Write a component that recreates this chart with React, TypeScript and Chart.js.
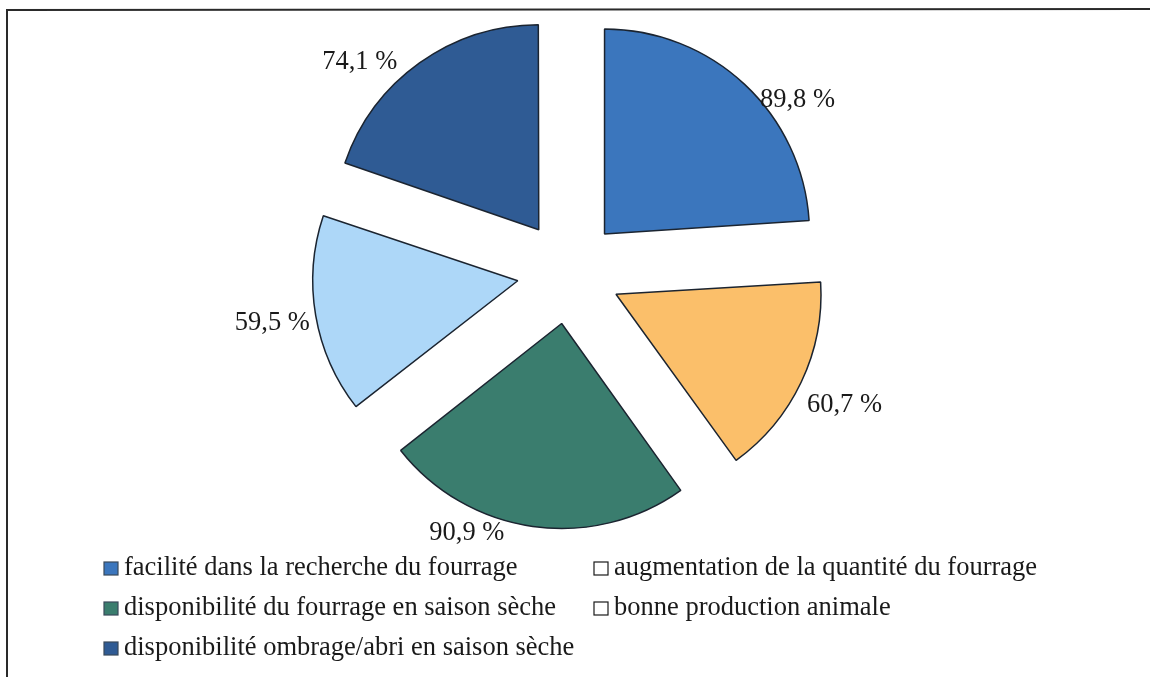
import React, { useEffect, useRef } from "react";
import { Chart, ArcElement, PieController } from "chart.js";

Chart.register(ArcElement, PieController);

// ---- data ----
const categories = [
  "facilité dans la recherche du fourrage",
  "augmentation de la quantité du fourrage",
  "disponibilité du fourrage en saison sèche",
  "bonne production animale",
  "disponibilité ombrage/abri en saison sèche",
];
const percentages = [89.8, 60.7, 90.9, 59.5, 74.1];

// ---- styles ----
const sliceColors = ["#3b76bd", "#fbbf6a", "#3a7d6e", "#add7f8", "#2f5b94"];
const legendColors = ["#3b76bd", "#ffffff", "#3a7d6e", "#ffffff", "#2f5b94"];
const FONT = '26.5px "Liberation Serif", "Times New Roman", serif';

// label placement: fraction along the slice's angle, distance from the slice's tip
const labelFrac = [0.64, 0.51, 0.686, 0.5, 0.34];
const labelDist = [235, 254, 230, 249, 245];

const fmt = (v: number) => v.toFixed(1).replace(".", ",") + " %";

const radiusFix = {
  id: "radiusFix",
  afterDatasetUpdate(chart: any, args: any) {
    const meta = chart.getDatasetMeta(args.index);
    meta.data.forEach((el: any) => {
      const off = ((el.options && el.options.offset) || 0) / 4;
      const circ = el.circumference || 0;
      const fix = 1 - Math.sin(Math.min(Math.PI, circ));
      el.outerRadius = el.outerRadius - off * fix;
    });
  },
};

const framePlugin = {
  id: "frame",
  beforeDraw(chart: any) {
    const ctx = chart.ctx;
    ctx.save();
    ctx.fillStyle = "#ffffff";
    ctx.fillRect(0, 0, chart.width, chart.height);
    ctx.strokeStyle = "#2a2a2a";
    ctx.lineWidth = 2;
    ctx.beginPath();
    ctx.moveTo(7, chart.height);
    ctx.lineTo(7, 10);
    ctx.lineTo(chart.width, 9);
    ctx.stroke();
    ctx.restore();
  },
};

const labelPlugin = {
  id: "sliceLabels",
  afterDatasetsDraw(chart: any) {
    const ctx = chart.ctx;
    const meta = chart.getDatasetMeta(0);
    const values = chart.data.datasets[0].data as number[];
    ctx.save();
    ctx.font = FONT;
    ctx.fillStyle = "#1a1a1a";
    ctx.textAlign = "center";
    ctx.textBaseline = "middle";
    meta.data.forEach((el: any, i: number) => {
      const off = ((el.options && el.options.offset) || 0) / 4;
      const mid = (el.startAngle + el.endAngle) / 2;
      const cx = el.x + Math.cos(mid) * off;
      const cy = el.y + Math.sin(mid) * off;
      const a = el.startAngle + labelFrac[i] * (el.endAngle - el.startAngle);
      const x = cx + Math.cos(a) * labelDist[i];
      const y = cy + Math.sin(a) * labelDist[i];
      ctx.fillText(fmt(values[i]), x, y);
    });
    ctx.restore();
  },
};

const legendPlugin = {
  id: "gridLegend",
  afterDraw(chart: any) {
    const ctx = chart.ctx;
    const labels = chart.data.labels as string[];
    const colX = [104, 594];
    const rowY = [568, 608, 648];
    ctx.save();
    ctx.font = FONT;
    ctx.textBaseline = "middle";
    ctx.textAlign = "left";
    labels.forEach((lab, i) => {
      const c = i % 2;
      const r = Math.floor(i / 2);
      const bx = colX[c];
      const by = rowY[r];
      ctx.fillStyle = legendColors[i];
      ctx.fillRect(bx, by - 6, 14, 13);
      ctx.lineWidth = 1.2;
      ctx.strokeStyle = legendColors[i] === "#ffffff" ? "#1a1a1a" : "#3a4a5a";
      ctx.strokeRect(bx, by - 6, 14, 13);
      ctx.fillStyle = "#1a1a1a";
      ctx.fillText(lab, bx + 20, by);
    });
    ctx.restore();
  },
};

export default function App() {
  const ref = useRef<HTMLCanvasElement | null>(null);
  useEffect(() => {
    if (!ref.current) return;
    const chart = new Chart(ref.current, {
      type: "pie",
      data: {
        labels: categories,
        datasets: [
          {
            data: percentages,
            backgroundColor: sliceColors,
            borderColor: "#1b2430",
            borderWidth: 1.5,
            offset: 208,
            radius: 205,
            clip: false,
          } as any,
        ],
      },
      options: {
        animation: false,
        responsive: false,
        events: [],
        layout: { padding: { left: 0, right: 12, top: 0, bottom: 133 } },
        plugins: {
          legend: { display: false },
          tooltip: { enabled: false },
        },
      } as any,
      plugins: [radiusFix, framePlugin, labelPlugin, legendPlugin],
    });
    return () => chart.destroy();
  }, []);
  return (
    <div style={{ position: "absolute", left: 0, top: 0, width: 1150, height: 677, background: "#fff" }}>
      <canvas ref={ref} width={1150} height={677} style={{ display: "block" }} />
    </div>
  );
}
